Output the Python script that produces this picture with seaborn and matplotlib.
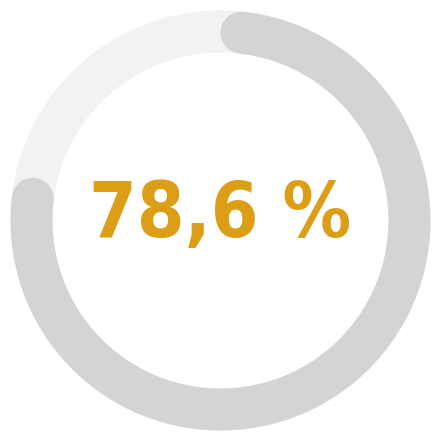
'''
Progress ring showing a single percentage value
'''

import numpy as np
import pandas as pd
import matplotlib.pyplot as plt
import seaborn as sns

# Value shown by the ring
value = 78.6
label = '78,6 %'

# Colours
track_color = '#f2f2f2'
bar_color = '#d4d4d4'
text_color = '#dc9e17'

sns.set_theme(style='white')

fig, ax = plt.subplots(figsize=(4.41, 4.41), dpi=100)
fig.subplots_adjust(left=0, right=1, bottom=0, top=1)

radius = 189
width_px = 42
lw = width_px * 72 / fig.dpi

# Cap angle so the rounded ends stay inside the value span
cap = np.degrees((width_px / 2) / radius)


def arc_frame(start_deg, end_deg, n=400):
    # angles measured clockwise from 12 o'clock
    ang = np.radians(np.linspace(start_deg, end_deg, n))
    return pd.DataFrame({'x': radius * np.sin(ang), 'y': radius * np.cos(ang)})


track = arc_frame(0, 360)
bar = arc_frame(cap, value / 100 * 360 - cap)

sns.lineplot(data=track, x='x', y='y', sort=False, ax=ax,
             color=track_color, linewidth=lw, estimator=None)
sns.lineplot(data=bar, x='x', y='y', sort=False, ax=ax,
             color=bar_color, linewidth=lw, estimator=None,
             solid_capstyle='round')

ax.text(0, 5, label, ha='center', va='center', color=text_color,
        fontsize=55, fontweight='bold', family='DejaVu Sans',
        fontstretch='condensed')

ax.set_xlim(-220.5, 220.5)
ax.set_ylim(-220.5, 220.5)
ax.set_aspect('equal')
ax.axis('off')

plt.savefig('out.png', dpi=100)
